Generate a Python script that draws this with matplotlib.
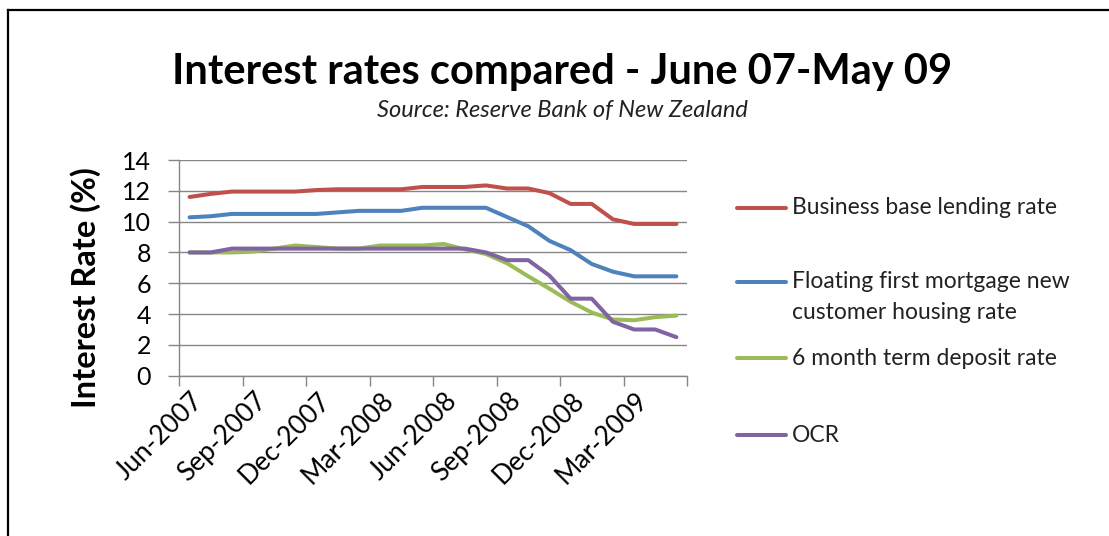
import matplotlib
matplotlib.use("Agg")
import matplotlib.pyplot as plt
from matplotlib.lines import Line2D
from matplotlib.transforms import ScaledTranslation
import numpy as np

months = ["Jun-2007", "Jul-2007", "Aug-2007", "Sep-2007", "Oct-2007", "Nov-2007",
          "Dec-2007", "Jan-2008", "Feb-2008", "Mar-2008", "Apr-2008", "May-2008",
          "Jun-2008", "Jul-2008", "Aug-2008", "Sep-2008", "Oct-2008", "Nov-2008",
          "Dec-2008", "Jan-2009", "Feb-2009", "Mar-2009", "Apr-2009", "May-2009"]

business = [11.6, 11.8, 11.95, 11.95, 11.95, 11.95, 12.05, 12.1, 12.1, 12.1, 12.1, 12.25,
            12.25, 12.25, 12.35, 12.15, 12.15, 11.85, 11.15, 11.15, 10.15, 9.85, 9.85, 9.85]
mortgage = [10.28, 10.35, 10.5, 10.5, 10.5, 10.5, 10.5, 10.6, 10.7, 10.7, 10.7, 10.9,
            10.9, 10.9, 10.9, 10.3, 9.7, 8.75, 8.15, 7.25, 6.75, 6.45, 6.45, 6.45]
deposit = [8.0, 8.0, 8.0, 8.05, 8.25, 8.45, 8.35, 8.25, 8.25, 8.45, 8.45, 8.45,
           8.55, 8.2, 7.9, 7.3, 6.45, 5.65, 4.8, 4.1, 3.65, 3.6, 3.8, 3.9]
ocr = [8.0, 8.0, 8.25, 8.25, 8.25, 8.25, 8.25, 8.25, 8.25, 8.25, 8.25, 8.25,
       8.25, 8.25, 8.0, 7.5, 7.5, 6.5, 5.0, 5.0, 3.5, 3.0, 3.0, 2.5]

series_names = ["Business base lending rate",
                "Floating first mortgage new\ncustomer housing rate",
                "6 month term deposit rate",
                "OCR"]
series_values = [business, mortgage, deposit, ocr]
series_colors = ["#C0504D", "#4F81BD", "#9BBB59", "#8064A2"]

title = "Interest rates compared - June 07-May 09"
subtitle = "Source: Reserve Bank of New Zealand"
ylabel = "Interest Rate (%)"
yticks = [0, 2, 4, 6, 8, 10, 12, 14]

plt.rcParams['font.family'] = ['Lato', 'DejaVu Sans']

W, H = 1109, 536
fig = plt.figure(figsize=(W / 100, H / 100), dpi=100)
fig.patch.set_facecolor("white")

ax = fig.add_axes([179 / W, 1 - 375.7 / H, (687 - 179) / W, (375.7 - 160) / H])
x = np.arange(len(months))
for vals, c in zip(series_values, series_colors):
    ax.plot(x, vals, color=c, lw=2.9, solid_capstyle="round", solid_joinstyle="round")

ax.set_xlim(-0.5, len(months) - 0.5)
ax.set_ylim(0, 14)
ax.set_yticks(yticks)
ax.set_yticklabels([str(v) for v in yticks], fontsize=18)
ax.grid(axis="y", color="#868686", lw=1)
ax.set_axisbelow(True)
for s in ["top", "right"]:
    ax.spines[s].set_visible(False)
for s in ["left", "bottom"]:
    ax.spines[s].set_color("#868686")
    ax.spines[s].set_linewidth(1)

# tick marks between categories, labels every third category
ax.set_xticks(np.arange(-0.5, len(months), 3))
ax.set_xticklabels([])
lab_pos = np.arange(0, len(months), 3)
ax.set_xticks(lab_pos, minor=True)
ax.set_xticklabels([months[i] for i in lab_pos], minor=True, fontsize=19)
ax.tick_params(axis="x", which="major", length=7, color="#868686", width=1)
ax.tick_params(axis="x", which="minor", length=0, pad=15)
ax.tick_params(axis="y", length=8, color="#868686", width=1, pad=12)
shift = ScaledTranslation(10 / 100, 0, fig.dpi_scale_trans)
for lab in ax.get_xticklabels(minor=True):
    lab.set_rotation(45)
    lab.set_ha("right")
    lab.set_va("center")
    lab.set_rotation_mode("anchor")
    lab.set_transform(lab.get_transform() + shift)

fig.text(86 / W, 1 - 288 / H, ylabel, rotation=90, fontsize=23.5, fontweight="bold",
         ha="center", va="center")
fig.text(562 / W, 1 - 72 / H, title, fontsize=30, fontweight="bold", ha="center", va="center")
fig.text(562 / W, 1 - 111 / H, subtitle, fontsize=17, style="italic", ha="center", va="center",
         color="#222222")

# legend
leg_y = [207.7, 282.3, 358.3, 435.0]
for name, c, yy in zip(series_names, series_colors, leg_y):
    fig.add_artist(Line2D([737 / W, 786 / W], [1 - yy / H] * 2, transform=fig.transFigure,
                          color=c, lw=2.9, solid_capstyle="round"))
    if "\n" in name:
        fig.text(792 / W, 1 - (yy - 11) / H, name, fontsize=16.5, ha="left", va="top",
                 linespacing=1.55, color="#222222")
    else:
        fig.text(792 / W, 1 - yy / H, name, fontsize=16.5, ha="left", va="center", color="#222222")

# chart frame
fig.add_artist(Line2D([8 / W, 1], [1 - 10 / H] * 2, transform=fig.transFigure, color="black", lw=1.6))
fig.add_artist(Line2D([8 / W, 8 / W], [1 - 10 / H, 0], transform=fig.transFigure, color="black", lw=1.6))

fig.savefig("out.png", dpi=100, facecolor="white")
